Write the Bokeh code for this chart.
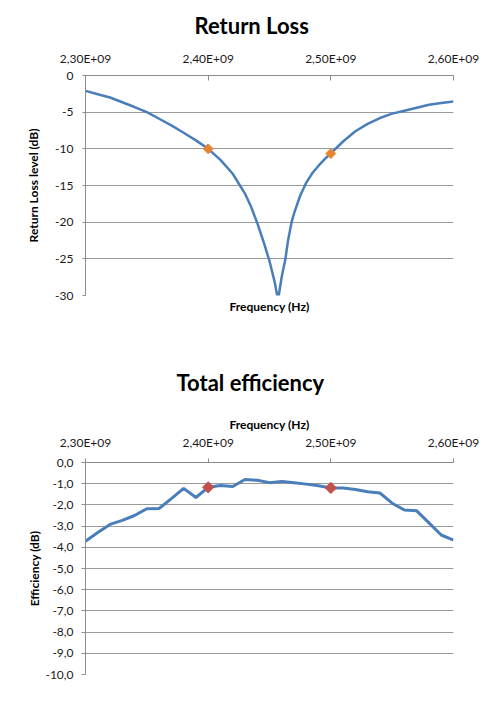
from bokeh.plotting import figure
from bokeh.models import Range1d, LinearAxis, FixedTicker, CustomJSTickFormatter, Title
from bokeh.layouts import column
from bokeh.embed import file_html
from bokeh.resources import INLINE
import math

# ---------------- data ----------------
rl_freq_mhz = [2300, 2310, 2320, 2330, 2340, 2350, 2360, 2370, 2380, 2390,
               2400, 2410, 2420, 2430, 2435, 2440, 2445, 2450, 2454, 2457,
               2460, 2463, 2465, 2468, 2470, 2475, 2480, 2485, 2490, 2495,
               2500, 2510, 2520, 2530, 2540, 2550, 2560, 2570, 2580, 2590, 2600]
rl_db = [-2.1, -2.55, -3.0, -3.65, -4.3, -5.0, -5.9, -6.8, -7.8, -8.85,
         -10.0, -11.5, -13.4, -16.1, -17.9, -20.1, -22.6, -25.3, -28.0, -30.6,
         -27.4, -25.0, -22.6, -20.0, -18.8, -16.4, -14.6, -13.3, -12.3, -11.4,
         -10.6, -9.0, -7.6, -6.6, -5.8, -5.2, -4.8, -4.4, -4.0, -3.75, -3.55]
rl_marker_mhz = [2400, 2500]
rl_marker_db = [-10.0, -10.65]

eff_freq_mhz = [2300, 2310, 2320, 2330, 2340, 2350, 2360, 2370, 2380, 2390,
                2400, 2410, 2420, 2430, 2440, 2450, 2460, 2470, 2480, 2490,
                2500, 2510, 2520, 2530, 2540, 2550, 2560, 2570, 2580, 2590, 2600]
eff_db = [-3.71, -3.3, -2.92, -2.73, -2.5, -2.18, -2.17, -1.7, -1.22, -1.65,
          -1.17, -1.08, -1.13, -0.8, -0.84, -0.95, -0.89, -0.95, -1.02, -1.1,
          -1.2, -1.2, -1.27, -1.38, -1.44, -1.92, -2.24, -2.28, -2.85, -3.42, -3.66]
eff_marker_mhz = [2400, 2500]
eff_marker_db = [-1.17, -1.2]

x_ticks_hz = [2.30e9, 2.40e9, 2.50e9, 2.60e9]
rl_y_ticks = [0, -5, -10, -15, -20, -25, -30]
eff_y_ticks = [0, -1, -2, -3, -4, -5, -6, -7, -8, -9, -10]

rl_title = "Return Loss"
eff_title = "Total efficiency"
x_label = "Frequency (Hz)"
rl_y_label = "Return Loss level (dB)"
eff_y_label = "Efficiency (dB)"

# ---------------- style ----------------
FONT = "Lato"
LINE = "#4A7EBB"
GRID = "#9a9a9a"
AXIS = "#8c8c8c"
TXT = "#1a1a1a"
TICK_FS = "12px"

x_fmt = CustomJSTickFormatter(code="return (tick/1e9).toFixed(2).replace('.', ',') + 'E+09';")


def style_y(ax, fmt_code, ticks, label, tick_out, standoff, label_standoff):
    ax.ticker = FixedTicker(ticks=ticks)
    ax.formatter = CustomJSTickFormatter(code=fmt_code)
    ax.axis_label = label
    ax.axis_label_text_font = FONT
    ax.axis_label_text_font_style = "bold"
    ax.axis_label_text_font_size = "12px"
    ax.axis_label_text_color = "#000000"
    ax.axis_label_standoff = label_standoff
    ax.major_label_text_font = FONT
    ax.major_label_text_font_size = TICK_FS
    ax.major_label_text_color = TXT
    ax.major_label_standoff = standoff
    ax.major_tick_in = 0
    ax.major_tick_out = tick_out
    ax.major_tick_line_color = AXIS
    ax.minor_tick_line_color = None
    ax.axis_line_color = AXIS


def style_x(ax, tick_in, tick_out, standoff):
    ax.ticker = FixedTicker(ticks=x_ticks_hz)
    ax.formatter = x_fmt
    ax.major_label_text_font = FONT
    ax.major_label_text_font_size = TICK_FS
    ax.major_label_text_color = TXT
    ax.major_label_standoff = standoff
    ax.major_tick_in = tick_in
    ax.major_tick_out = tick_out
    ax.major_tick_line_color = AXIS
    ax.minor_tick_line_color = None
    ax.axis_line_color = AXIS


# ---------------- Return loss ----------------
p1 = figure(width=490, height=348, output_backend="svg", toolbar_location=None,
            x_range=Range1d(2.30e9, 2.60e9), y_range=Range1d(-30, 0),
            x_axis_location="above",
            min_border_left=74, min_border_right=36, min_border_top=74, min_border_bottom=53)
p1.outline_line_color = None
p1.background_fill_color = "white"
p1.border_fill_color = "white"
p1.title = Title(text=rl_title, align="left", offset=109, text_font=FONT,
                 text_font_size="22px", text_font_style="bold", text_color="#000000",
                 standoff=18)
style_x(p1.xaxis[0], 5, 0, 10)
style_y(p1.yaxis[0], "return tick.toFixed(0);", rl_y_ticks, rl_y_label, 3, 9, 11)
bx1 = LinearAxis(ticker=FixedTicker(ticks=[]), axis_label=x_label,
                 axis_label_text_font=FONT, axis_label_text_font_style="bold",
                 axis_label_text_font_size="12px", axis_label_text_color="#000000",
                 axis_label_standoff=3, major_label_text_font_size="0px",
                 major_label_standoff=0, major_tick_out=0, major_tick_in=0,
                 minor_tick_line_color=None, axis_line_color=None)
p1.add_layout(bx1, "below")
p1.xgrid.visible = False
p1.ygrid.ticker = FixedTicker(ticks=rl_y_ticks)
p1.ygrid.grid_line_color = GRID

p1.line([f * 1e6 for f in rl_freq_mhz], rl_db, line_color=LINE, line_width=2.5)
p1.scatter([f * 1e6 for f in rl_marker_mhz], rl_marker_db, marker="square",
           angle=math.pi / 4, size=7, fill_color="#E8842F", line_color="#E8842F")

# ---------------- Efficiency ----------------
p2 = figure(width=490, height=342, output_backend="svg", toolbar_location=None,
            x_range=Range1d(2.30e9, 2.60e9), y_range=Range1d(-10, 0),
            x_axis_location="above",
            min_border_left=85, min_border_right=37, min_border_top=114, min_border_bottom=16)
p2.outline_line_color = None
p2.background_fill_color = "white"
p2.border_fill_color = "white"
p2.title = Title(text=eff_title, align="left", offset=91, text_font=FONT,
                 text_font_size="22px", text_font_style="bold", text_color="#000000",
                 standoff=36)
xa2 = p2.xaxis[0]
style_x(xa2, 0, 4, 9)
xa2.axis_label = x_label
xa2.axis_label_text_font = FONT
xa2.axis_label_text_font_style = "bold"
xa2.axis_label_text_font_size = "12px"
xa2.axis_label_text_color = "#000000"
xa2.axis_label_standoff = 0
style_y(p2.yaxis[0], "return tick.toFixed(1).replace('.', ',');", eff_y_ticks, eff_y_label, 4, 8, 0)
p2.xgrid.visible = False
p2.ygrid.ticker = FixedTicker(ticks=eff_y_ticks)
p2.ygrid.grid_line_color = GRID

p2.line([f * 1e6 for f in eff_freq_mhz], eff_db, line_color=LINE, line_width=3)
p2.scatter([f * 1e6 for f in eff_marker_mhz], eff_marker_db, marker="square",
           angle=math.pi / 4, size=8, fill_color="#C0504D", line_color="#C0504D")

layout = column(p1, p2)
open("out.html", "w").write(file_html(layout, INLINE))
